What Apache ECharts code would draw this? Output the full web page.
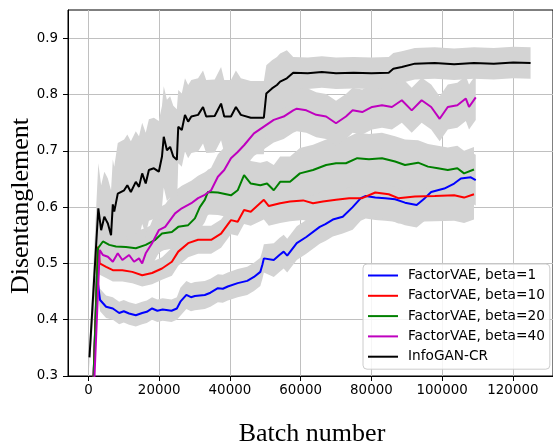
<!DOCTYPE html>
<html><head><meta charset="utf-8">
<script src="https://cdn.jsdelivr.net/npm/echarts@6/dist/echarts.min.js"></script>
<style>html,body{margin:0;padding:0;background:#fff}#c{width:553px;height:447px}</style>
</head><body><div id="c"></div>
<script>
// ---- data ----
const xTicks = [0, 20000, 40000, 60000, 80000, 100000, 120000];
const yTicks = [0.3, 0.4, 0.5, 0.6, 0.7, 0.8, 0.9];
const seriesNames = ['FactorVAE, beta=1', 'FactorVAE, beta=10', 'FactorVAE, beta=20', 'FactorVAE, beta=40', 'InfoGAN-CR'];

const beta1X = [1200,2400,3300,5000,6900,8700,10000,11500,13400,15200,
  16500,18000,19500,21000,23500,25000,26000,27700,29000,30100,
  32900,34500,36600,38000,39400,42200,44900,46800,48600,49200,
  49600,52400,54000,55200,56200,58900,61600,65400,67000,69100,
  71900,74700,77000,78400,81100,83900,86700,89500,92800,95100,
  96900,100600,103400,105300,108100,109500];
const beta1Y = [.25,.478,.435,.423,.420,.412,.415,.411,.408,.412,
  .414,.420,.416,.418,.416,.420,.432,.444,.440,.442,
  .444,.448,.456,.455,.459,.465,.469,.476,.485,.498,
  .509,.506,.515,.521,.514,.536,.547,.565,.570,.578,
  .583,.600,.616,.620,.617,.616,.614,.608,.604,.616,
  .627,.633,.642,.651,.653,.648];
const beta1Err = [.02,.02,.02,.02,.02,.02,.02,.02,.02,.02,
  .02,.02,.02,.02,.02,.02,.025,.025,.025,.025,
  .025,.025,.025,.025,.025,.025,.025,.025,.025,.025,
  .025,.03,.03,.03,.03,.03,.03,.03,.03,.03,
  .03,.04,.04,.04,.04,.04,.04,.04,.04,.04,
  .045,.045,.045,.045,.045,.045];

const beta10X = [1200,2700,3200,5000,6900,9600,12400,15200,18000,20800,
  23600,25400,28200,31000,34700,37500,40300,42200,44000,45900,
  49600,51000,54200,57000,60700,63500,66300,70000,73700,77400,
  81100,84900,87600,92300,97900,103400,106200,109000];
const beta10Y = [.25,.530,.500,.494,.488,.488,.485,.479,.483,.491,
  .503,.521,.536,.542,.542,.553,.577,.574,.595,.592,
  .613,.602,.607,.610,.612,.607,.610,.613,.616,.616,
  .626,.623,.616,.619,.620,.621,.617,.623];
const beta10Err = [.02,.02,.02,.02,.02,.02,.02,.02,.02,.02,
  .025,.025,.025,.025,.025,.025,.025,.025,.025,.025,
  .035,.035,.035,.035,.035,.035,.035,.035,.035,.035,
  .045,.045,.045,.045,.045,.045,.045,.045];

const beta20X = [1200,2700,4100,5900,7800,10600,13400,16200,18900,20800,
  23600,25400,28200,30100,31500,32900,33800,36600,40300,42200,
  44000,45900,48600,50500,52400,54200,57000,59800,63500,67200,
  70000,72800,76000,79300,83000,86700,89500,93200,96000,98800,
  101600,104300,106200,109000];
const beta20Y = [.25,.527,.539,.533,.530,.529,.527,.533,.542,.553,
  .556,.565,.568,.580,.600,.613,.627,.626,.621,.630,
  .657,.642,.639,.642,.630,.645,.645,.660,.666,.675,
  .678,.678,.687,.685,.687,.681,.675,.679,.672,.669,
  .666,.669,.660,.667];
const beta20Err = [.03,.03,.03,.03,.03,.03,.03,.03,.03,.03,
  .03,.03,.03,.04,.04,.04,.04,.04,.04,.04,
  .04,.04,.04,.04,.045,.045,.045,.045,.045,.045,
  .045,.045,.045,.045,.045,.045,.045,.04,.04,.04,
  .04,.04,.04,.04];

const beta40X = [1200,3200,4100,5500,6900,8300,9600,11500,12900,14300,
  15200,16200,18000,19900,21700,24500,26400,29100,31000,32900,
  34700,36600,38400,40300,42200,44000,46800,49600,52400,55200,
  57900,58900,61600,64400,67200,70000,72800,74700,77400,80200,
  83000,85800,88600,91400,94200,96900,99300,101600,104300,106700,
  107600,109500];
const beta40Y = [.22,.524,.515,.512,.503,.518,.506,.515,.503,.509,
  .500,.518,.536,.559,.565,.589,.598,.607,.616,.622,
  .630,.654,.666,.687,.698,.710,.731,.743,.755,.761,
  .772,.775,.772,.764,.761,.749,.761,.772,.769,.778,
  .781,.778,.790,.772,.790,.778,.757,.778,.781,.793,
  .778,.795];
const beta40Err = [.03,.03,.03,.03,.03,.03,.03,.03,.03,.03,
  .03,.03,.04,.04,.04,.04,.04,.04,.04,.04,
  .04,.04,.04,.04,.04,.04,.04,.04,.04,.04,
  .04,.04,.04,.04,.04,.04,.04,.04,.04,.04,
  .04,.04,.04,.04,.04,.04,.04,.04,.04,.04,
  .04,.04];

const infoganX = [300,2800,3600,4500,5000,5500,6400,6900,7300,8300,
  10100,11000,12000,13400,14300,15200,16200,17100,18500,19900,
  20800,21300,22200,23100,24000,25000,25400,26400,27300,28200,
  29100,31000,32400,33300,35700,37500,38400,40300,41700,43100,
  45900,49600,50300,51900,53300,54200,56100,57900,62000,66000,
  70000,75000,80000,84900,86200,88600,92300,97900,103400,109000,
  114600,120100,125000];
const infoganY = [.333,.598,.559,.583,.577,.571,.550,.605,.592,.624,
  .630,.639,.627,.645,.636,.660,.642,.666,.669,.663,
  .690,.725,.701,.707,.690,.684,.743,.737,.764,.752,
  .761,.764,.778,.761,.762,.784,.761,.761,.778,.764,
  .759,.759,.802,.811,.817,.823,.829,.839,.838,.840,
  .838,.839,.838,.839,.846,.849,.855,.856,.854,.856,
  .855,.857,.856];
const infoganErr = [.02,.08,.08,.08,.08,.08,.08,.08,.08,.09,
  .09,.09,.09,.09,.09,.09,.09,.09,.09,.09,
  .09,.09,.09,.09,.09,.09,.065,.065,.065,.065,
  .065,.065,.065,.065,.065,.065,.065,.065,.065,.065,
  .065,.065,.05,.05,.05,.05,.05,.028,.028,.028,
  .028,.028,.028,.028,.028,.028,.028,.028,.028,.028,
  .028,.028,.028];

const colors = ['#0000ff', '#ff0000', '#008000', '#bf00bf', '#000000'];
const allX = [beta1X, beta10X, beta20X, beta40X, infoganX];
const allY = [beta1Y, beta10Y, beta20Y, beta40Y, infoganY];
const allErr = [beta1Err, beta10Err, beta20Err, beta40Err, infoganErr];

// ---- build series ----
function bandRender(params, api) {
  if (params.dataIndex !== 0) return null;
  const n = params.dataInsideLength;
  const upper = [], lower = [];
  for (let i = 0; i < n; i++) {
    const x = api.value(0, i), lo = api.value(1, i), hi = api.value(2, i);
    upper.push(api.coord([x, hi]));
    lower.push(api.coord([x, lo]));
  }
  const pts = upper.concat(lower.reverse());
  const cs = params.coordSys;
  return {
    type: 'polygon',
    shape: { points: echarts.graphic.clipPointsByRect(pts, { x: cs.x, y: cs.y, width: cs.width, height: cs.height }) },
    style: { fill: '#d3d3d3', stroke: null }
  };
}
const series = [];
for (let s = 0; s < 5; s++) {
  const xs = allX[s], ys = allY[s], es = allErr[s];
  series.push({
    type: 'custom', name: 'band' + s, z: 1, silent: true, clip: true,
    renderItem: bandRender,
    encode: { x: 0, y: [1, 2] },
    data: xs.map((x, i) => [x, ys[i] - es[i], ys[i] + es[i]])
  });
}
for (let s = 0; s < 5; s++) {
  series.push({
    type: 'line', name: seriesNames[s], z: 3,
    data: allX[s].map((x, i) => [x, allY[s][i]]),
    showSymbol: false, symbol: 'none',
    lineStyle: { color: colors[s], width: 2 }, itemStyle: { color: colors[s] }
  });
}

const chart = echarts.init(document.getElementById('c'), null, { renderer: 'canvas' });
chart.setOption({
  animation: false,
  backgroundColor: '#fff',
  grid: { left: 68, right: -7, top: 10, bottom: 71, show: true, borderColor: '#000', borderWidth: 1, backgroundColor: 'transparent' },
  xAxis: {
    type: 'value', min: -5770, max: 131340,
    axisLine: { show: true, onZero: false, lineStyle: { color: '#000', width: 1 } },
    axisTick: { show: true, length: 5, customValues: xTicks, lineStyle: { color: '#000' } },
    axisLabel: { customValues: xTicks, formatter: v => String(v), fontFamily: 'DejaVu Sans', fontSize: 13.4, color: '#000', margin: 8 },
    splitLine: { show: true, lineStyle: { color: '#c0c0c0', width: 1 } }
  },
  yAxis: {
    type: 'value', min: 0.3, max: 0.9503,
    axisLine: { show: true, onZero: false, lineStyle: { color: '#000', width: 1 } },
    axisTick: { show: true, length: 5, customValues: yTicks, lineStyle: { color: '#000' } },
    axisLabel: { customValues: yTicks, formatter: v => v.toFixed(1), fontFamily: 'DejaVu Sans', fontSize: 13.4, color: '#000', margin: 10 },
    splitLine: { show: true, lineStyle: { color: '#c0c0c0', width: 1 } }
  },
  legend: {
    orient: 'vertical', left: 363, top: 264,
    data: seriesNames.map(n => ({ name: n, icon: 'rect' })),
    itemWidth: 30, itemHeight: 2, itemGap: 5.3,
    padding: [4, 5, 5, 5],
    backgroundColor: 'rgba(255,255,255,0.85)', borderColor: '#cccccc', borderWidth: 1, borderRadius: 4,
    textStyle: { fontFamily: 'DejaVu Sans', fontSize: 13.7, color: '#000', lineHeight: 15, padding: [0, 0, 0, 5] },
    selectedMode: false
  },
  graphic: [
    { type: 'text', x: 21, y: 206, rotation: Math.PI / 2,
      style: { text: 'Disentanglement', font: '26px "Liberation Serif"', fill: '#000', textAlign: 'center', textVerticalAlign: 'middle' } },
    { type: 'text', x: 312, y: 434,
      style: { text: 'Batch number', font: '26px "Liberation Serif"', fill: '#000', textAlign: 'center', textVerticalAlign: 'middle' } }
  ],
  series: series
});
</script></body></html>
